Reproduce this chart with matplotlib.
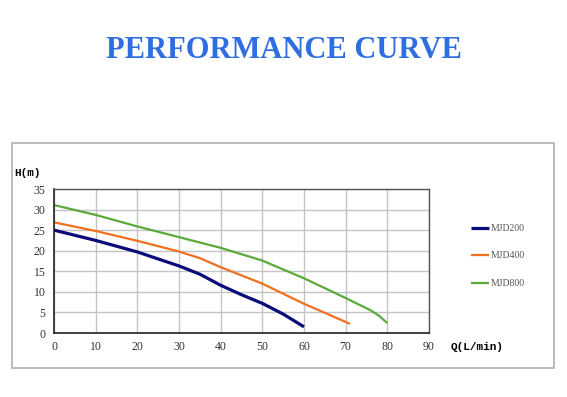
import matplotlib.pyplot as plt
from matplotlib.patches import Rectangle

# flow Q (L/min) and head H (m)
q_200 = [0, 10, 20, 30, 35, 40, 45, 50, 55, 60]
h_200 = [25.0, 22.5, 19.7, 16.3, 14.3, 11.6, 9.3, 7.2, 4.6, 1.5]

q_400 = [0, 10, 20, 30, 35, 40, 50, 60, 70, 71]
h_400 = [26.9, 24.8, 22.4, 19.8, 18.2, 16.0, 12.0, 7.1, 2.7, 2.2]

q_800 = [0, 10, 20, 30, 40, 50, 60, 70, 76, 78, 80]
h_800 = [31.1, 28.7, 25.9, 23.3, 20.7, 17.6, 13.3, 8.5, 5.5, 4.2, 2.4]

series = [("MJD200", q_200, h_200, "#0b0b7a", 2.3),
          ("MJD400", q_400, h_400, "#f07020", 1.6),
          ("MJD800", q_800, h_800, "#5aaa3a", 1.6)]

xticks = list(range(0, 100, 10))
yticks = list(range(0, 40, 5))

fig = plt.figure(figsize=(5.67, 3.97), dpi=100)

# title
fig.text(0.5, 1 - 51 / 397, "PERFORMANCE CURVE", ha="center", va="center",
         fontsize=22, fontweight="bold", color="#2e6ee0",
         family="Liberation Serif")

# outer frame
fig.patches.append(Rectangle((12 / 567, 1 - 368 / 397), 542 / 567, 225 / 397,
                             transform=fig.transFigure, fill=False,
                             edgecolor="#b0b0b0", linewidth=1.2))

ax = fig.add_axes([54 / 567, 1 - 333 / 397, 375 / 567, 144 / 397])
for name, q, h, c, lw in series:
    ax.plot(q, h, color=c, linewidth=lw, label=name, solid_capstyle="butt")

ax.set_xlim(0, 90)
ax.set_ylim(0, 35)
ax.set_xticks(xticks)
ax.set_yticks(yticks)
ax.grid(True, color="#c4c4c4", linewidth=1.0)
ax.set_axisbelow(True)
ax.tick_params(length=0, labelsize=8.5, labelcolor="#333333", pad=6)
for lab in ax.get_xticklabels() + ax.get_yticklabels():
    lab.set_family("Liberation Serif")
for s in ["left", "bottom"]:
    ax.spines[s].set_color("#222222")
    ax.spines[s].set_linewidth(1.2)
for s in ["top", "right"]:
    ax.spines[s].set_color("#555555")
    ax.spines[s].set_linewidth(1.0)

fig.text(14 / 567, 1 - 173 / 397, "H(m)", ha="left", va="center",
         fontsize=8, fontweight="bold", family="Liberation Mono")
fig.text(451 / 567, 1 - 347 / 397, "Q(L/min)", ha="left", va="center",
         fontsize=8, fontweight="bold", family="Liberation Mono")

leg = fig.legend(loc="center left", bbox_to_anchor=(462 / 567, 1 - 256 / 397),
                 frameon=False, handlelength=1.9, handletextpad=0.1,
                 labelspacing=1.9, prop={"family": "Liberation Serif", "size": 7})
for t in leg.get_texts():
    t.set_color("#555555")

fig.savefig("out.png", dpi=100)
